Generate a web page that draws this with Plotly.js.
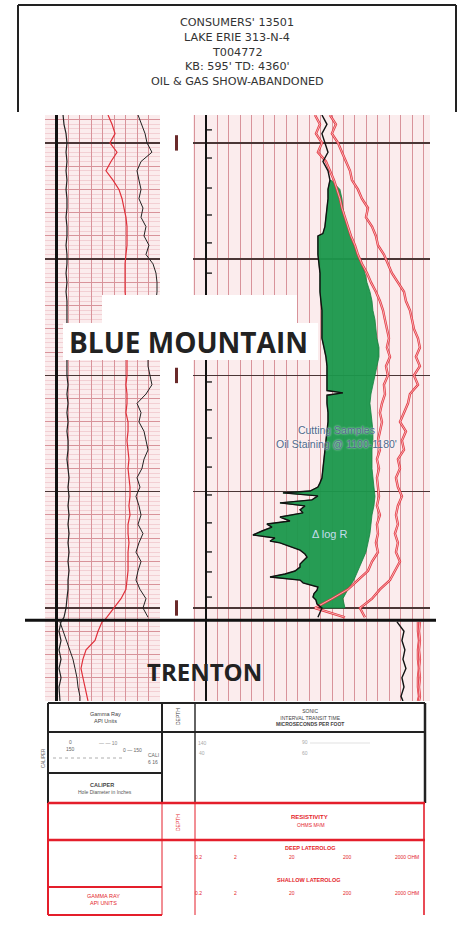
<!DOCTYPE html>
<html><head><meta charset="utf-8">
<script src="https://cdn.plot.ly/plotly-3.0.1.min.js"></script>
<style>html,body{margin:0;padding:0;background:#fff}#chart{width:460px;height:937px}</style>
</head><body><div id="chart"></div>
<script>
// ---------- data (depth in feet) ----------
const depth = [988,992,996,1000,1004,1008,1012,1016,1020,1024,
  1028,1032,1036,1040,1044,1048,1052,1056,1060,1064,
  1068,1072,1076,1080,1084,1088,1092,1096,1100,1104,
  1108,1112,1116,1120,1124,1128,1132,1136,1140,1144,
  1148,1152,1156,1160,1164,1168,1172,1176,1180,1184,
  1188,1192,1196,1200,1204,1205,
  1206,1210,1214,1218,1222,1226,1230,1234,1238,1240];

// left track curves
const caliper = [5.7,6.5,8.3,9.1,8.3,9.1,8.3,9.1,8.3,9.1,
  9.1,8.3,9.1,9.1,8.3,9.1,9.1,8.3,9.1,8.3,
  9.1,9.1,9.1,9.1,9.1,9.1,9.1,9.1,9.1,10,
  9.1,10,9.1,10,9.1,10,10,9.1,10,10.9,
  10,10.9,10,10.9,10,10.9,10,10.9,10,10.9,
  10,10,9.1,8.3,6.5,5.0,
  3.9,2.2,3.9,2.2,3.9,2.2,3.9,2.2,3.0,3.0];
const gammaRay = [44.8,48.3,50.9,46.5,52.6,47.4,43.0,49.1,54.3,57.0,
  58.7,60.4,61.3,61.3,61.3,60.4,59.6,59.6,59.6,59.6,
  60.4,60.4,61.3,61.3,61.3,61.3,61.3,61.3,61.3,60.4,
  61.3,61.3,60.4,62.2,62.2,61.3,62.2,63.0,62.2,63.0,
  63.9,63.9,63.0,63.9,62.2,62.2,63.0,62.2,62.2,62.2,
  61.3,60.4,56.1,50.0,43.9,42.2,
  39.6,36.1,33.5,25.7,23.0,21.3,23.0,24.8,26.5,27.4];
const neutron = [70.9,74.3,77.0,78.7,83.0,73.5,70.0,71.7,73.5,71.7,
  75.2,73.5,77.8,76.1,80.4,77.8,83.9,86.5,87.4,87.4,
  86.5,85.7,83.0,81.3,81.3,80.4,79.6,79.6,81.3,83.0,
  77.8,70.0,73.5,71.7,76.1,77.8,79.6,76.1,74.3,70.0,
  72.6,69.1,71.7,73.5,70.9,75.2,71.7,69.1,73.5,70.9,
  69.1,72.6,77.8,75.2,79.6,null,
  3.0,5.7,9.1,11.7,14.3,16.1,17.8,18.7,20.4,20.4];

// right track: sonic curve has its own (finer) depth sampling
const sonicDepth = [988,992,996,1000,1004,1008,1012,1016,1020,1024,
  1028,1032,1036,1039,1040,1044,1048,1052,1056,1060,
  1064,1068,1072,1076,1080,1084,1088,1092,1096,1100,
  1104,1106.5,1107.5,1108.5,1112,1116,1120,1124,1128,1132,
  1136,1140,1144.1,1146.2,1148.0,1149.7,1150.5,1151.8,1153.5,1154.8,
  1156.1,1157.8,1159.1,1160.9,1162.6,1163.9,1165.2,1166.9,1168.6,1169.9,
  1171.2,1172.0,1173.8,1175.1,1176.8,1178.1,1179.8,1181.1,1182.4,1184.1,
  1185.4,1186.7,1188.0,1189.2,1191.0,1192.3,1193.8,1195.3,1196.6,1198.3,
  1200,1204,1205,
  1206,1210,1214,1218,1222,1226,1230,1234,1238,1240];
const sonic = [101.2,105.6,101.2,103.8,106.5,102.1,106.5,108.2,106.5,106.5,
  105.6,104.7,103.8,102.0,97.7,97.7,97.7,98.6,99.5,99.5,
  99.5,100.3,101.2,101.2,101.2,101.2,103.0,104.7,105.6,105.6,
  105.6,105.6,119.5,105.6,105.6,106.5,106.5,105.6,104.7,103.8,
  103.0,102.1,101.2,99.5,97.7,90.8,67.2,97.7,92.5,64.6,
  86.4,82.1,84.7,64.6,73.3,53.2,57.6,48.9,41.0,60.2,
  55.9,64.6,75.0,82.1,86.4,88.2,84.7,82.1,82.1,77.7,
  69.0,55.9,82.1,84.7,97.7,96.9,94.3,93.4,96.0,96.9,
  101.2,97.7,null,
  166.7,172.8,171.0,173.6,171.9,174.5,171.0,172.8,170.2,171.9];
const logRBase = [null,null,null,null,null,null,null,109.1,116.9,118.7,
  119.5,121.3,123.9,126.5,129.1,132.6,136.1,138.7,140.5,143.1,
  144.9,145.7,147.5,148.3,149.2,151.0,151.0,149.2,147.5,145.7,
  144.0,143.1,144.0,144.9,145.7,145.7,144.9,144.9,144.9,145.7,
  146.6,147.5,146.6,144.9,144.0,143.1,141.4,139.6,136.1,132.6,
  129.1,123.9,119.5,121.3,null,null,
  null,null,null,null,null,null,null,null,null,null];
const resShallow = [95.1,99.5,96.0,101.2,97.7,104.7,108.2,111.7,114.3,116.9,
  118.7,121.3,123.9,126.5,130.0,132.6,136.1,140.5,144.0,148.3,
  151.8,154.5,156.2,157.9,159.7,157.9,160.6,157.1,158.8,155.3,
  156.2,153.6,151.8,153.6,151.8,150.1,151.8,149.2,151.0,149.2,
  150.1,151.0,149.2,151.8,149.2,150.1,148.3,150.1,144.9,141.4,
  132.6,123.9,109.9,95.1,121.3,null,
  185.0,185.0,185.9,185.0,185.0,185.9,185.0,185.0,185.9,185.0];
const resDeep = [108.2,113.4,109.9,115.2,118.7,122.2,125.7,127.4,132.6,136.1,
  141.4,139.6,144.9,148.3,150.1,155.3,158.8,162.3,167.5,172.8,
  174.5,178.0,179.8,181.5,185.0,186.7,183.2,186.7,181.5,185.0,
  178.0,176.3,172.8,169.3,174.5,171.0,172.8,167.5,169.3,165.8,
  167.5,171.0,167.5,165.8,167.5,164.9,167.5,165.8,169.3,164.9,
  160.6,151.8,144.9,134.4,138.7,null,
  186.7,185.9,186.7,185.9,186.7,185.9,186.7,185.9,186.7,185.9];

const timingTicks = [994.4,1006.5,1019.4,1031,1043,1056,1068,1080,1091,1102.8,1114.8,1126.9,1139.4,1151.4,1163.4,1175.9,1184.5,1195.3];
const depthMarks = [1000,1100,1200];
const formationNames = ['BLUE MOUNTAIN','TRENTON'];
const formationLabelDepth = [1085.6,1227.2];
const trentonTop = 1205.3;
const titleLines = ["CONSUMERS' 13501","LAKE ERIE 313-N-4","T004772","KB: 595' TD: 4360'","OIL & GAS SHOW-ABANDONED"];
const noteText = "Cutting Samples<br>Oil Staining @ 1100-1180'";
const noteDepth = 1126.5;
const deltaLabel = "\u0394 log R";
const deltaDepth = 1168;
const resScale = ["0.2","2","20","200","2000 OHM"];

// ---------- helpers for layout positions (pixels -> paper) ----------
const W = 460, H = 937;
const X = p => p / W, Y = p => 1 - p / H;

// ---------- traces ----------
const traces = [];
// green ΔlogR overlay between the sonic curve and the baseline curve
const gi = [];
logRBase.forEach((v, i) => { if (v !== null) gi.push(i); });
const gTop = depth[gi[0]], gBot = depth[gi[gi.length - 1]];
const si = [];
sonicDepth.forEach((d, i) => { if (d >= gTop && d <= gBot && sonic[i] !== null) si.push(i); });
const polyX = si.map(i => sonic[i]).concat(gi.slice().reverse().map(i => logRBase[i]));
const polyY = si.map(i => sonicDepth[i]).concat(gi.slice().reverse().map(i => depth[i]));
traces.push({x: polyX, y: polyY, xaxis: 'x2', yaxis: 'y3', mode: 'lines', fill: 'toself',
  fillcolor: 'rgba(26,152,76,0.95)', line: {color: '#16803f', width: 0.8}, hoverinfo: 'skip'});
[resShallow, resDeep].forEach(arr => {
  traces.push({x: arr, y: depth, xaxis: 'x2', yaxis: 'y3', mode: 'lines', line: {color: '#e4353f', width: 2.4}});
  traces.push({x: arr, y: depth, xaxis: 'x2', yaxis: 'y3', mode: 'lines', line: {color: '#fbe3e4', width: 0.7}});
});
traces.push({x: sonic, y: sonicDepth, xaxis: 'x2', yaxis: 'y3', mode: 'lines', line: {color: '#111', width: 1.4}});
traces.push({x: timingTicks.map(() => 2.2), y: timingTicks, xaxis: 'x2', yaxis: 'y3', mode: 'markers',
  marker: {symbol: 'line-ew', size: 5, line: {color: '#111', width: 1.3}}});

traces.push({x: caliper, y: depth, xaxis: 'x', yaxis: 'y3', mode: 'lines', line: {color: '#222', width: 1.2}});
traces.push({x: gammaRay, y: depth, xaxis: 'x', yaxis: 'y3', mode: 'lines', line: {color: '#e0303a', width: 1.2}});
traces.push({x: neutron, y: depth, xaxis: 'x', yaxis: 'y3', mode: 'lines', line: {color: '#222', width: 1}});

traces.push({x: depthMarks.map(() => 0.5), y: depthMarks, xaxis: 'x3', yaxis: 'y2', mode: 'markers',
  marker: {symbol: 'line-ns', size: 11, line: {color: '#6a2a2a', width: 3}}});

// ---------- layout ----------
const yDom = [Y(701), Y(115)];
const yRange = [1240, 988];
const gridMinor = '#ecbcc1', gridMain = '#d8939a';
const noTicks = {showticklabels: false, ticks: '', fixedrange: true};
const layout = {
  width: W, height: H, margin: {l: 0, r: 0, t: 0, b: 0},
  paper_bgcolor: '#fff', plot_bgcolor: 'rgba(0,0,0,0)', showlegend: false,
  xaxis: Object.assign({domain: [X(45), X(160)], range: [-10, 90], dtick: 10, showgrid: true, gridcolor: gridMain, gridwidth: 1,
    zeroline: true, zerolinecolor: '#111', zerolinewidth: 2.6, anchor: 'y'}, noTicks),
  xaxis2: Object.assign({domain: [X(193), X(430)], range: [-11.3, 195.5], dtick: 10, showgrid: true, gridcolor: gridMain, gridwidth: 1,
    zeroline: true, zerolinecolor: '#111', zerolinewidth: 2.6, anchor: 'y'}, noTicks),
  xaxis3: Object.assign({domain: [X(160), X(193)], range: [0, 1], showgrid: false, zeroline: false, anchor: 'y2'}, noTicks),
  xaxis4: Object.assign({domain: [X(193), X(430)], range: [-11.3, 195.5], overlaying: 'x2', tick0: 40, dtick: 50,
    showgrid: true, gridcolor: '#a8646c', gridwidth: 1.1, zeroline: false, anchor: 'y'}, noTicks),
  yaxis: Object.assign({domain: yDom, range: yRange, dtick: 10, showgrid: true, gridcolor: gridMain, gridwidth: 1,
    minor: {dtick: 2, showgrid: true, gridcolor: gridMinor, gridwidth: 0.6}, zeroline: false, anchor: 'x'}, noTicks),
  yaxis2: Object.assign({domain: yDom, range: yRange, showgrid: false, zeroline: false, anchor: 'x3'}, noTicks),
  yaxis3: Object.assign({domain: yDom, range: yRange, overlaying: 'y', tick0: 1000, dtick: 50, showgrid: true,
    gridcolor: '#4a3636', gridwidth: 1.4, zeroline: false, anchor: 'x'}, noTicks),
  shapes: [], annotations: []
};
const S = layout.shapes, A = layout.annotations;

// track backgrounds
[[45, 160], [193, 430]].forEach(t => S.push({type: 'rect', xref: 'paper', yref: 'paper', x0: X(t[0]), x1: X(t[1]),
  y0: yDom[0], y1: yDom[1], fillcolor: '#fbeced', line: {width: 0}, layer: 'below'}));

// white label boxes
S.push({type: 'rect', xref: 'paper', yref: 'paper', x0: X(102), x1: X(297), y0: Y(323), y1: Y(295), fillcolor: '#fff', line: {width: 0}, layer: 'above'});
S.push({type: 'rect', xref: 'paper', yref: 'paper', x0: X(63), x1: X(318), y0: Y(360), y1: Y(323), fillcolor: '#fff', line: {width: 0}, layer: 'above'});

// formation top line
S.push({type: 'line', xref: 'paper', yref: 'y', x0: X(25), x1: X(436), y0: trentonTop, y1: trentonTop, line: {color: '#111', width: 3}, layer: 'above'});

const L = (x0, y0, x1, y1, color, width, dash) => S.push({type: 'line', xref: 'paper', yref: 'paper',
  x0: X(x0), x1: X(x1), y0: Y(y0), y1: Y(y1), line: {color: color, width: width, dash: dash || 'solid'}, layer: 'above'});
// title frame
L(18, 5, 456, 5, '#222', 2);
L(18, 5, 18, 112, '#222', 2);
L(456, 5, 456, 112, '#222', 2);

// bottom header table (black part)
const K = '#222', R = '#e41e2b';
L(48, 703, 425, 703, K, 2); L(48, 703, 48, 803, K, 2); L(425, 703, 425, 803, K, 2.5);
L(48, 732, 425, 732, K, 2); L(162, 703, 162, 803, K, 2); L(195, 703, 195, 803, K, 1.4);
L(48, 773, 162, 773, K, 2); L(53, 758, 123, 758, '#999', 0.8, 'dot');
// red part
L(48, 803, 425, 803, R, 2.5); L(48, 840, 425, 840, R, 2.5);
L(48, 803, 48, 915, R, 2); L(424, 803, 424, 915, R, 1.6);
L(162, 803, 162, 915, R, 1); L(195, 803, 195, 915, R, 1);
L(48, 887, 162, 887, R, 2); L(48, 915, 162, 915, R, 2);

// ---------- text ----------
const T = (txt, x, y, size, color, extra) => A.push(Object.assign({text: txt, xref: 'paper', yref: 'paper',
  x: X(x), y: Y(y), showarrow: false, xanchor: 'center', yanchor: 'middle',
  font: {family: 'Liberation Sans, Arial, sans-serif', size: size, color: color}}, extra || {}));
titleLines.forEach((t, i) => A.push({text: t, xref: 'paper', yref: 'paper', x: X(237), y: Y(23 + i * 14.6),
  showarrow: false, xanchor: 'center', yanchor: 'middle', font: {family: 'DejaVu Sans, sans-serif', size: 11.2, color: '#333'}}));

A.push({text: '<b>' + formationNames[0] + '</b>', xref: 'paper', yref: 'y', x: X(188), y: formationLabelDepth[0],
  showarrow: false, xanchor: 'center', yanchor: 'middle', font: {family: 'Open Sans, sans-serif', size: 28, color: '#222'}});
A.push({text: '<b>' + formationNames[1] + '</b>', xref: 'paper', yref: 'y', x: X(204), y: formationLabelDepth[1],
  showarrow: false, xanchor: 'center', yanchor: 'middle', font: {family: 'Open Sans, sans-serif', size: 24, color: '#222'}});
A.push({text: noteText, xref: 'x2', yref: 'y', x: 114, y: noteDepth, showarrow: false, xanchor: 'center', yanchor: 'middle',
  font: {family: 'Liberation Sans, Arial, sans-serif', size: 10.5, color: '#4f6a8c', shadow: '0px 0px 2px #ffffff'}});
A.push({text: deltaLabel, xref: 'x2', yref: 'y', x: 108, y: deltaDepth, showarrow: false, xanchor: 'center', yanchor: 'middle',
  font: {family: 'Liberation Sans, Arial, sans-serif', size: 11, color: '#c4dcec'}});

// header table labels
T('Gamma Ray<br>API Units', 105, 717, 5.5, '#444');
T('DEPTH', 178, 717, 5, '#444', {textangle: -90});
T('SONIC<br>INTERVAL TRANSIT TIME<br><b>MICROSECONDS PER FOOT</b>', 310, 717, 5, '#444');
T('0', 70, 742, 5, '#666'); T('\u2014 \u2014 10', 108, 743, 5, '#888');
T('150', 70, 749, 5, '#666'); T('0 \u2014 150', 132, 750, 5, '#666');
T('CALI', 153, 755, 5, '#666'); T('6 16', 153, 762, 5, '#666');
T('CALIPER', 43, 758, 4.5, '#666', {textangle: -90});
T('<b>CALIPER</b>', 102, 785, 5.5, '#444');
T('Hole Diameter in Inches', 105, 792, 5, '#555');
T('140', 202, 743, 5, '#aaa'); T('40', 202, 753, 5, '#aaa');
T('90', 305, 742, 5, '#aaa'); T('60', 305, 753, 5, '#aaa');
L(310, 743, 370, 743, '#ccc', 0.6);
T('<b>RESISTIVITY</b>', 309, 817, 6, R);
T('OHMS M\u00b2/M', 311, 825, 5, R);
T('DEPTH', 178, 823, 5, R, {textangle: -90});
T('<b>DEEP LATEROLOG</b>', 310, 848, 5.5, R);
T('<b>SHALLOW LATEROLOG</b>', 308, 880, 5.5, R);
[198, 235, 292, 347, 407].forEach((x, i) => { T(resScale[i], x, 857, 5, R); T(resScale[i], x, 893, 5, R); });
T('GAMMA RAY<br>API UNITS', 103, 899, 5.5, R);

Plotly.newPlot('chart', traces, layout, {staticPlot: true, displayModeBar: false});
</script></body></html>
